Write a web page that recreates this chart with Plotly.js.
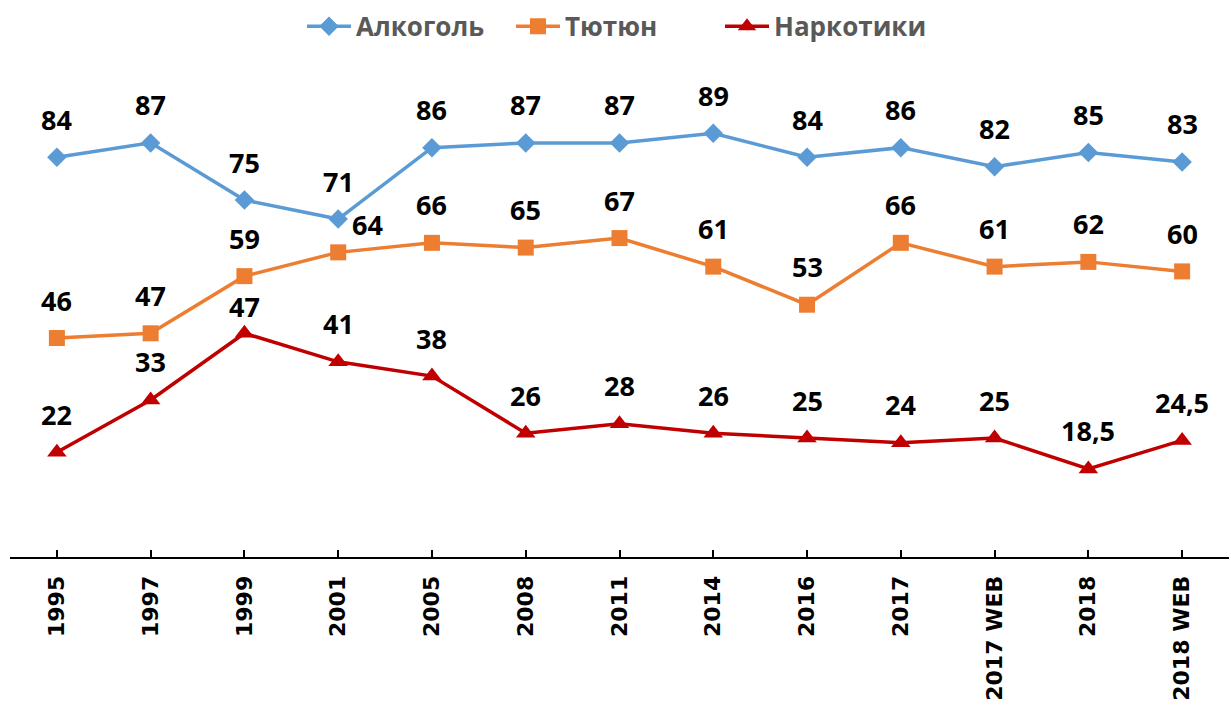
<!DOCTYPE html>
<html><head><meta charset="utf-8">
<script src="https://cdn.plot.ly/plotly-3.0.1.min.js"></script>
<style>html,body{margin:0;padding:0;background:#fff}#c{width:1231px;height:710px}</style>
</head><body><div id="c"></div>
<script>
const categories = ['1995','1997','1999','2001','2005','2008','2011','2014','2016','2017','2017 WEB','2018','2018 WEB'];
const alcohol = [84,87,75,71,86,87,87,89,84,86,82,85,83];
const tobacco = [46,47,59,64,66,65,67,61,53,66,61,62,60];
const drugs = [22,33,47,41,38,26,28,26,25,24,25,18.5,24.5];
const seriesNames = ['Алкоголь','Тютюн','Наркотики'];

const colors = ['#5B9BD5','#ED7D31','#C00000'];
const symbols = ['diamond','square','triangle-up'];
const sizes = [15,16,17];
const all = [alcohol, tobacco, drugs];

const traces = all.map((vals,i)=>({
  type:'scatter', mode:'lines+markers', name:seriesNames[i],
  x:categories, y:vals,
  line:{color:colors[i], width:3.5},
  marker:{color:colors[i], symbol:symbols[i], size:sizes[i]},
  cliponaxis:false
}));

// label placement tweaks (series index, point index) -> shifts
const tweak = {'1-3':{xs:29,ys:28}, '2-2':{xs:0,ys:27}};
const annotations = [];
all.forEach((vals,i)=>{
  vals.forEach((v,j)=>{
    const t = tweak[i+'-'+j] || {xs:0,ys:38};
    annotations.push({x:j, y:v, xref:'x', yref:'y',
      text:String(v).replace('.',','), showarrow:false,
      xshift:t.xs, yshift:t.ys,
      font:{family:'Open Sans', size:27, color:'#000', weight:'bold'}});
  });
});

const layout = {
  width:1231, height:710,
  margin:{l:10, r:2, t:81, b:153},
  paper_bgcolor:'#fff', plot_bgcolor:'#fff',
  showlegend:true,
  legend:{orientation:'h', xref:'container', yref:'container', x:0.5, xanchor:'center', y:0.963, yanchor:'middle',
    font:{family:'Open Sans', size:26, color:'#595959', weight:'bold'},
    itemwidth:44, tracegroupgap:0, entrywidth:150, entrywidthmode:'pixels'},
  xaxis:{type:'category', range:[-0.5,12.5], showline:true, linecolor:'#000', linewidth:2,
    ticks:'inside', ticklen:7, tickwidth:2, tickcolor:'#000', showgrid:false, zeroline:false,
    tickangle:-90, tickfont:{family:'DejaVu Sans', size:22, color:'#000', weight:'bold'},
    ticklabelstandoff:8},
  yaxis:{range:[0,100], visible:false, showgrid:false, zeroline:false},
  annotations: annotations,
  font:{family:'Open Sans'}
};
Plotly.newPlot('c', traces, layout, {displayModeBar:false, staticPlot:true});
</script></body></html>
